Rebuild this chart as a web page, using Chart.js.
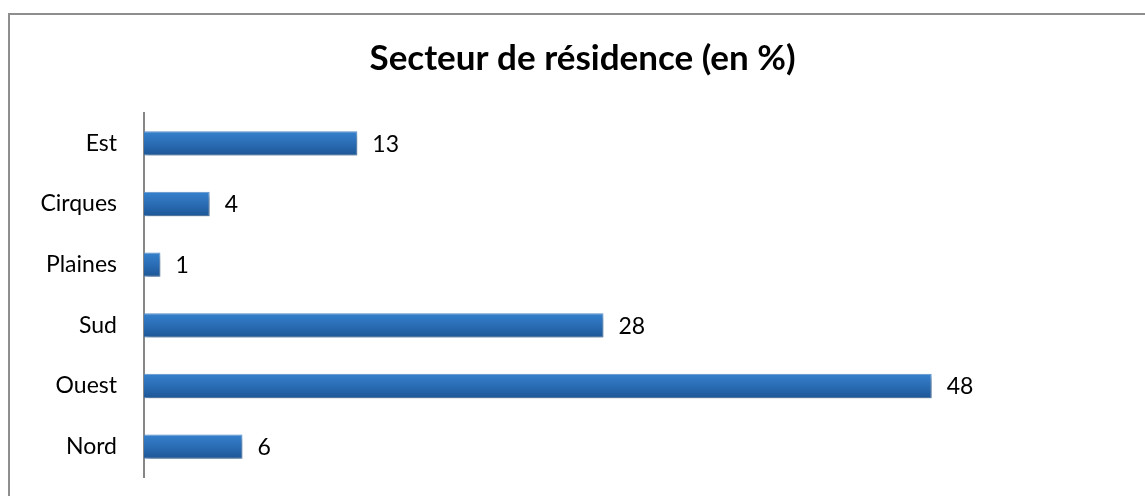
<!DOCTYPE html>
<html>
<head>
<meta charset="utf-8">
<script src="https://cdn.jsdelivr.net/npm/chart.js@4/dist/chart.umd.min.js"></script>
<style>
  html, body { margin: 0; padding: 0; background: #fff; }
  #wrap { width: 1145px; height: 496px; }
</style>
</head>
<body>
<div id="wrap"><canvas id="secteur"></canvas></div>
<script>
// secteurs, du haut vers le bas
var secteurs = ['Est', 'Cirques', 'Plaines', 'Sud', 'Ouest', 'Nord']
var pourcent = [13, 4, 1, 28, 48, 6]
var titre = 'Secteur de résidence (en %)'

var police = 'Lato, "Open Sans", sans-serif'

// cadre gris autour du graphique
var cadre = {
  id: 'cadre',
  beforeDraw: function(chart){
    var ctx = chart.ctx
    ctx.save()
    ctx.strokeStyle = '#8e8e8e'
    ctx.lineWidth = 2
    ctx.beginPath()
    ctx.moveTo(1145, 14)
    ctx.lineTo(9, 14)
    ctx.lineTo(9, 496)
    ctx.stroke()
    ctx.restore()
  }
}

// ombre portée sous les barres
var ombre = {
  id: 'ombre',
  beforeDatasetsDraw: function(chart){
    var ctx = chart.ctx
    ctx.save()
    ctx.shadowColor = 'rgba(0,0,0,0.35)'
    ctx.shadowBlur = 5
    ctx.shadowOffsetX = 2
    ctx.shadowOffsetY = 3
  },
  afterDatasetsDraw: function(chart){
    chart.ctx.restore()
  }
}

// valeur écrite à droite de chaque barre
var valeurs = {
  id: 'valeurs',
  afterDraw: function(chart){
    var ctx = chart.ctx
    var meta = chart.getDatasetMeta(0)
    ctx.save()
    ctx.font = '23px ' + police
    ctx.fillStyle = '#000'
    ctx.textBaseline = 'middle'
    ctx.textAlign = 'left'
    meta.data.forEach(function(bar, i){
      ctx.fillText(String(pourcent[i]), bar.x + 15, bar.y + 1)
    })
    ctx.restore()
  }
}

function degrade(context){
  var chart = context.chart
  var y = chart.scales.y
  if (!y || !chart.chartArea) return '#2a6db5'
  var centre = y.getPixelForValue(context.dataIndex)
  var demi = 12
  var g = chart.ctx.createLinearGradient(0, centre - demi, 0, centre + demi)
  g.addColorStop(0, '#3680cc')
  g.addColorStop(0.5, '#2a6db5')
  g.addColorStop(1, '#1d5696')
  return g
}

new Chart('secteur', {
  type: 'bar',
  data: {
    labels: secteurs,
    datasets: [{
      label: titre,
      data: pourcent,
      backgroundColor: degrade,
      borderColor: '#5b95d2',
      borderWidth: 1,
      barPercentage: 0.4,
      categoryPercentage: 1
    }]
  },
  options: {
    indexAxis: 'y',
    responsive: true,
    maintainAspectRatio: false,
    animation: false,
    layout: {
      padding: { left: 20, right: 0, top: 0, bottom: 19 }
    },
    plugins: {
      legend: { display: false },
      tooltip: { enabled: false },
      title: {
        display: true,
        text: titre,
        color: '#000',
        font: { family: police, size: 35, weight: 'bold', lineHeight: 1.2 },
        padding: { top: 38, bottom: 33 }
      }
    },
    scales: {
      x: {
        display: false,
        min: 0,
        max: 61
      },
      y: {
        afterFit: function(scale){
          scale.width = 124
          // pas de marge en haut/bas pour les libellés
          scale.paddingTop = 0
          scale.paddingBottom = 0
        },
        grid: { display: false, drawTicks: false },
        border: { display: true, color: '#868686', width: 2 },
        ticks: {
          color: '#000',
          padding: 27,
          font: { family: police, size: 23 }
        }
      }
    }
  },
  plugins: [cadre, ombre, valeurs]
});
</script>
</body>
</html>
